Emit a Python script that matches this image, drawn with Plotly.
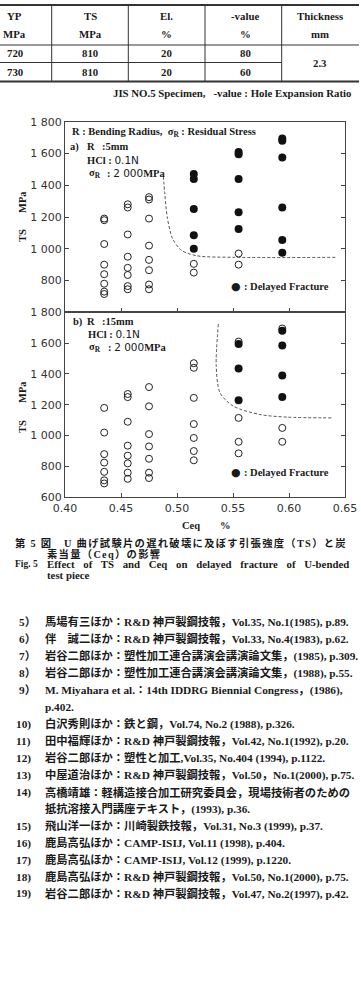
import plotly.graph_objects as go

W, H = 361, 995

# ---------------- data ----------------
ceq_cols = [0.435, 0.456, 0.475, 0.515, 0.555, 0.594]

# panel a) R = 5 mm  (TS in MPa, per Ceq column)
a_open_ts = [
    [1190, 1180, 1030, 900, 840, 780, 730, 715],
    [1280, 1260, 1090, 950, 880, 835, 765, 745],
    [1325, 1310, 1190, 1020, 930, 865, 775, 745],
    [905, 850],
    [970, 900],
    [],
]
a_fill_ts = [
    [], [], [],
    [1470, 1440, 1250, 1085, 1000],
    [1610, 1595, 1440, 1230, 1125],
    [1695, 1680, 1575, 1260, 1055, 975],
]
a_curve_ceq = [0.4878, 0.4890, 0.4915, 0.4960, 0.5040, 0.5176, 0.5513, 0.6430]
a_curve_ts = [1456, 1354, 1190, 1065, 990, 956, 946, 946]

# panel b) R = 15 mm
b_open_ts = [
    [1180, 1020, 880, 825, 765, 710, 690],
    [1270, 1250, 1090, 935, 870, 820, 760, 720],
    [1315, 1190, 1010, 930, 850, 760, 725],
    [1470, 1440, 1245, 1075, 985, 900, 840],
    [1610, 1115, 960, 885],
    [1695, 1050, 960],
]
b_fill_ts = [
    [], [], [], [],
    [1595, 1435, 1230],
    [1680, 1585, 1390, 1250],
]
b_curve_ceq = [0.5369, 0.5350, 0.5384, 0.5503, 0.5741, 0.5980, 0.6396]
b_curve_ts = [1724, 1452, 1278, 1191, 1137, 1120, 1115]

y_ticks_a = [800, 1000, 1200, 1400, 1600, 1800]
y_ticks_b = [600, 800, 1000, 1200, 1400, 1600, 1800]
x_ticks = [0.40, 0.45, 0.50, 0.55, 0.60, 0.65]

table_header1 = ["YP", "TS", "El.", "-value", "Thickness"]
table_header2 = ["MPa", "MPa", "%", "%", "mm"]
table_rows = [["720", "810", "20", "80"], ["730", "810", "20", "60"]]
table_thickness = "2.3"

refs = [
    ("5）", "馬場有三ほか：R&D 神戸製鋼技報，Vol.35, No.1(1985), p.89."),
    ("6）", "伴　誠二ほか：R&D 神戸製鋼技報，Vol.33, No.4(1983), p.62."),
    ("7）", "岩谷二郎ほか：塑性加工連合講演会講演論文集，(1985), p.309."),
    ("8）", "岩谷二郎ほか：塑性加工連合講演会講演論文集，(1988), p.55."),
    ("9）", "M. Miyahara et al.：14th IDDRG Biennial Congress，(1986),"),
    ("", "p.402."),
    ("10)", "白沢秀則ほか：鉄と鋼，Vol.74, No.2 (1988), p.326."),
    ("11)", "田中福輝ほか：R&D 神戸製鋼技報，Vol.42, No.1(1992), p.20."),
    ("12)", "岩谷二郎ほか：塑性と加工,Vol.35, No.404 (1994), p.1122."),
    ("13)", "中屋道治ほか：R&D 神戸製鋼技報，Vol.50，No.1(2000), p.75."),
    ("14)", "高橋靖雄：軽構造接合加工研究委員会，現場技術者のための"),
    ("", "抵抗溶接入門講座テキスト，(1993), p.36."),
    ("15)", "飛山洋一ほか：川崎製鉄技報，Vol.31, No.3 (1999), p.37."),
    ("16)", "鹿島高弘ほか：CAMP-ISIJ, Vol.11 (1998), p.404."),
    ("17)", "鹿島高弘ほか：CAMP-ISIJ, Vol.12 (1999), p.1220."),
    ("18)", "鹿島高弘ほか：R&D 神戸製鋼技報，Vol.50, No.1(2000), p.75."),
    ("19)", "岩谷二郎ほか：R&D 神戸製鋼技報，Vol.47, No.2(1997), p.42."),
]

# ---------------- helpers ----------------
def px(x):
    return x / W

def py(y):
    return 1 - y / H

def expand(cols):
    xs, ys = [], []
    for c, vals in zip(ceq_cols, cols):
        for v in vals:
            xs.append(c)
            ys.append(v)
    return xs, ys

def fmt(v):
    s = str(v)
    return s if len(s) < 4 else s[:-3] + " " + s[-3:]

SERIF = "Liberation Serif, 'Noto Sans CJK JP', serif"
SANS = "DejaVu Sans, sans-serif"
TXT = "#1a1a1a"
AX = "#444444"

annotations = []
shapes = []

def ann(x, y, text, size=10.5, anchor="left", family=SERIF, weight="bold", color=TXT, angle=0):
    annotations.append(dict(
        x=px(x), y=py(y), xref="paper", yref="paper", text=text, showarrow=False,
        xanchor=anchor, yanchor="middle", textangle=angle,
        font=dict(family=family, size=size, color=color, weight=weight)))

def hline(y, x0, x1, w=1, color="#333"):
    shapes.append(dict(type="line", xref="paper", yref="paper", x0=px(x0), x1=px(x1),
                       y0=py(y), y1=py(y), line=dict(color=color, width=w)))

def vline(x, y0, y1, w=1, color="#333"):
    shapes.append(dict(type="line", xref="paper", yref="paper", x0=px(x), x1=px(x),
                       y0=py(y0), y1=py(y1), line=dict(color=color, width=w)))

# ---------------- figure ----------------
fig = go.Figure()

open_marker = dict(symbol="circle-open", size=7, color="#222", line=dict(width=1, color="#222"))
fill_marker = dict(symbol="circle", size=8, color="#111", line=dict(width=0))
curve_line = dict(color="#555", width=1, dash="3px,2px", shape="spline", smoothing=0.8)

xs, ys = expand(a_open_ts)
fig.add_trace(go.Scatter(x=xs, y=ys, mode="markers", marker=open_marker, xaxis="x2", yaxis="y", showlegend=False))
xs, ys = expand(a_fill_ts)
fig.add_trace(go.Scatter(x=xs, y=ys, mode="markers", marker=fill_marker, xaxis="x2", yaxis="y", showlegend=False))
fig.add_trace(go.Scatter(x=a_curve_ceq, y=a_curve_ts, mode="lines", line=curve_line,
                         xaxis="x2", yaxis="y", showlegend=False))

xs, ys = expand(b_open_ts)
fig.add_trace(go.Scatter(x=xs, y=ys, mode="markers", marker=open_marker, xaxis="x", yaxis="y2", showlegend=False))
xs, ys = expand(b_fill_ts)
fig.add_trace(go.Scatter(x=xs, y=ys, mode="markers", marker=fill_marker, xaxis="x", yaxis="y2", showlegend=False))
fig.add_trace(go.Scatter(x=b_curve_ceq, y=b_curve_ts, mode="lines", line=curve_line,
                         xaxis="x", yaxis="y2", showlegend=False))

x_dom = [px(65), px(345)]
a_dom = [py(312.3), py(121.7)]
b_dom = [py(497.3), py(312.3)]

tickfont = dict(family=SANS, size=11, color="#333")
common_x = dict(range=[0.40, 0.65], domain=x_dom, showgrid=False, zeroline=False, showline=True,
                linecolor=AX, linewidth=1, mirror=True, ticks="inside", ticklen=4, tickcolor=AX,
                tickvals=x_ticks, automargin=False)
common_y = dict(range=[600, 1800], showgrid=False, zeroline=False, showline=True, linecolor=AX,
                linewidth=1, mirror="ticks", ticks="inside", ticklen=4, tickcolor=AX, automargin=False,
                tickfont=tickfont)

fig.update_layout(
    width=W, height=H, margin=dict(l=0, r=0, t=0, b=0),
    paper_bgcolor="white", plot_bgcolor="white",
    xaxis=dict(**common_x, anchor="y2", ticktext=[f"{v:.2f}" for v in x_ticks], tickfont=tickfont),
    xaxis2=dict(**common_x, anchor="y", matches="x", showticklabels=False),
    yaxis=dict(**common_y, domain=a_dom, anchor="x2", tickvals=y_ticks_a, ticktext=[fmt(v) for v in y_ticks_a]),
    yaxis2=dict(**common_y, domain=b_dom, anchor="x", tickvals=y_ticks_b, ticktext=[fmt(v) for v in y_ticks_b]),
)

# ---------------- table ----------------
hline(5, 0, 359, w=2)
hline(45, 0, 359)
hline(62.5, 0, 281.7)
hline(81.5, 0, 359, w=2)
for vx in [51.7, 128.3, 205, 281.7]:
    vline(vx, 5, 81.5)
col_cx = [14.5, 90, 166.7, 245.5, 320]
for i, (h1, h2) in enumerate(zip(table_header1, table_header2)):
    ann(col_cx[i], 16, h1, size=10.8, anchor="center")
    ann(col_cx[i], 33.5, h2, size=10.8, anchor="center")
for r, row in enumerate(table_rows):
    yy = [53.5, 71.5][r]
    for i, v in enumerate(row):
        ann(col_cx[i], yy, v, size=10.8, anchor="center")
ann(col_cx[4], 63, table_thickness, size=10.8, anchor="center")
ann(353, 92.7, "JIS NO.5 Specimen,   -value : Hole Expansion Ratio", size=10.8, anchor="right")

# ---------------- chart annotations ----------------
sub = "<sub>R</sub>"
NUM = "<span style='font-family:DejaVu Sans;font-weight:normal'>{}</span>"
ann(70, 132.7, f"R : Bending Radius,  σ{sub} : Residual Stress", size=10.5)
ann(68, 146.7, "a)", size=10.5)
ann(85, 146.7, "R", size=10.5)
ann(100, 146.7, ":5mm", size=10.5)
ann(85, 160, "HCl : " + NUM.format("0.1N"), size=10.5)
ann(86.5, 173.3, f"σ{sub}", size=10.5)
ann(104.5, 173.3, ": " + NUM.format("2 000") + "MPa", size=10.5)

ann(71, 321.5, "b)", size=10.5)
ann(85, 321.5, "R", size=10.5)
ann(100, 321.5, ":15mm", size=10.5)
ann(86, 334, "HCl : " + NUM.format("0.1N"), size=10.5)
ann(86.5, 347.3, f"σ{sub}", size=10.5)
ann(106, 347.3, ": " + NUM.format("2 000") + "MPa", size=10.5)

for yy in [286, 472.7]:
    ann(235.5, yy, "●", size=11, anchor="center", family=SANS, weight="normal")
    ann(241.5, yy, ": Delayed Fracture", size=10.5)

# axis titles
ann(22, 236, "TS", size=10.5, anchor="center", angle=-90)
ann(22, 202, "MPa", size=10.5, anchor="center", angle=-90)
ann(22, 427, "TS", size=10.5, anchor="center", angle=-90)
ann(22, 392, "MPa", size=10.5, anchor="center", angle=-90)
ann(191, 525.7, "Ceq", size=10.5, anchor="center")
ann(225, 525.7, "%", size=10.5, anchor="center")

# ---------------- caption ----------------
LS = "<span style='letter-spacing:1.3px'>{}</span>"
ann(13, 543.3, LS.format("第 5 図　U 曲げ試験片の遅れ破壊に及ぼす引張強度（TS）と炭"), size=10.3)
ann(45, 554.0, LS.format("素当量（Ceq）の影響"), size=10.3)
ann(13, 564.3, "Fig. 5", size=9.5)
ann(45, 564.3, "<span style='word-spacing:6px'>Effect of TS and Ceq on delayed fracture of U-bended</span>", size=10.8)
ann(45, 574.8, "test piece", size=10.8)

# ---------------- references ----------------
for i, (num, text) in enumerate(refs):
    yy = 622.3 + 16.98 * i
    if num:
        ann(17 if len(num) == 2 else 14, yy, num, size=11.3)
    ann(42.7, yy, text, size=11.3)

fig.update_layout(annotations=annotations, shapes=shapes)
fig.write_html("out.html")
